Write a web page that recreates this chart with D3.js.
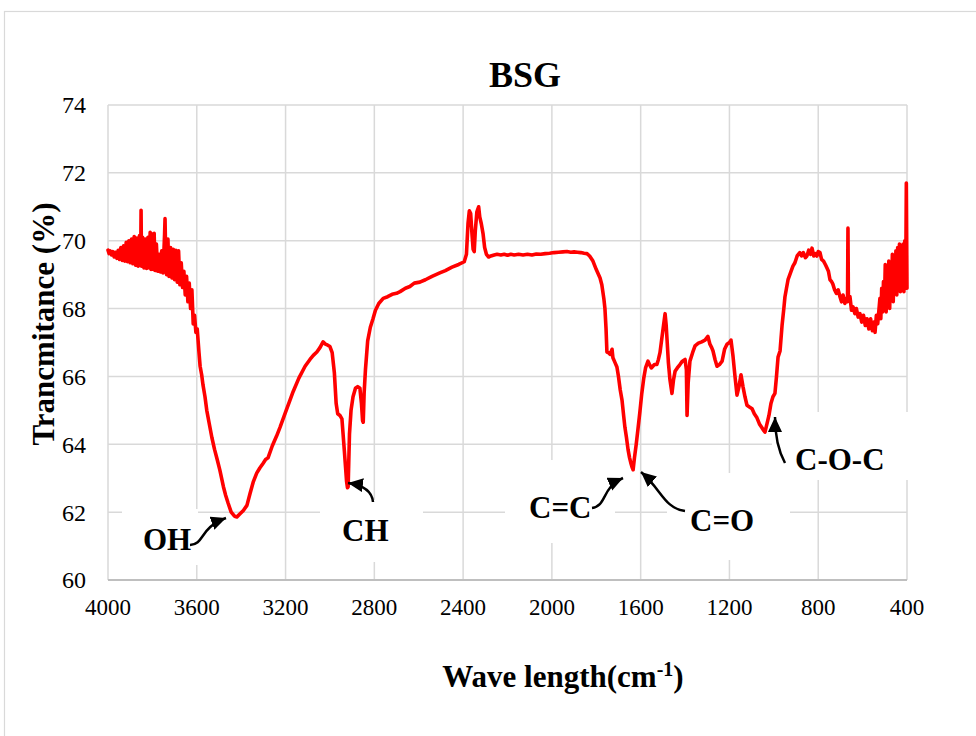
<!DOCTYPE html>
<html>
<head>
<meta charset="utf-8">
<script src="https://cdn.jsdelivr.net/npm/d3@7"></script>
<style>
  html, body { margin: 0; padding: 0; background: #fff; }
  svg { display: block; }
  text { font-family: "Liberation Serif", "Times New Roman", serif; fill: #000; }
</style>
</head>
<body>
<svg id="chart" width="976" height="736"></svg>
<script>
// ---------------- DATA ----------------
const chartTitle = "BSG";
const xTicks = [4000, 3600, 3200, 2800, 2400, 2000, 1600, 1200, 800, 400];
const yTicks = [60, 62, 64, 66, 68, 70, 72, 74];

const wavenumbers = [
  4000,3995,3990,3984,3978,3972,3966,3960,3954,3948,3942,3936,3930,3924,3918,3912,3906,3900,3894,3888,
  3882,3876,3870,3864,3858,3853,3851,3849,3844,3838,3832,3826,3820,3814,3810,3806,3800,3796,3792,3788,
  3782,3776,3770,3764,3758,3752,3745,3743,3740,3736,3730,3725,3718,3712,3706,3700,3694,3688,3682,3676,
  3670,3664,3658,3652,3646,3640,3634,3628,3622,3616,3610,3604,3598,3590,3585,3578,3572,3563,3555,3545,
  3532,3520,3508,3496,3480,3470,3459,3445,3430,3419,3405,3390,3374,3360,3345,3330,3316,3300,3290,3279,
  3260,3240,3225,3200,3180,3166,3140,3112,3090,3075,3059,3045,3031,3020,3010,3000,2990,2980,2972,2965,
  2955,2946,2935,2925,2921,2918,2912,2905,2896,2885,2875,2865,2858,2853,2850,2846,2840,2830,2818,2806,
  2795,2780,2760,2740,2720,2700,2684,2660,2640,2620,2595,2570,2540,2505,2480,2450,2420,2395,2385,2378,
  2372,2366,2360,2355,2350,2345,2338,2330,2325,2318,2310,2303,2295,2285,2275,2260,2247,2230,2215,2200,
  2185,2170,2150,2130,2110,2090,2070,2050,2030,2010,1990,1970,1950,1932,1915,1900,1885,1870,1855,1842,
  1830,1815,1800,1783,1775,1766,1761,1756,1752,1745,1738,1729,1725,1715,1707,1700,1692,1684,1676,1671,
  1664,1657,1650,1643,1639,1634,1628,1620,1613,1604,1595,1586,1578,1567,1560,1552,1545,1538,1527,1520,
  1513,1505,1497,1490,1485,1481,1475,1468,1459,1452,1445,1435,1423,1412,1400,1394,1391,1386,1378,1366,
  1355,1340,1325,1310,1297,1288,1280,1274,1265,1256,1245,1233,1222,1211,1200,1193,1184,1175,1166,1157,
  1148,1139,1130,1121,1110,1098,1088,1076,1065,1055,1045,1040,1031,1022,1013,1004,995,988,981,972,
  963,955,950,943,936,925,914,905,895,883,875,867,858,851,843,835,828,820,813,806,
  800,792,785,776,768,761,754,747,740,734,726,718,710,702,695,688,680,672,668,666,
  664,657,650,643,635,628,620,612,604,596,588,580,572,564,556,548,544,538,532,526,
  522,518,514,510,506,502,498,494,490,486,482,478,474,470,466,462,458,454,450,446,
  442,438,434,430,426,422,418,414,410,406,403,400
];
const transmittance = [
  69.72,69.62,69.70,69.58,69.68,69.52,69.66,69.48,69.72,69.45,69.80,69.42,69.85,69.40,69.95,69.38,70.00,69.35,70.05,69.32,
  70.12,69.28,70.08,69.25,70.15,69.30,70.90,69.25,70.10,69.20,70.05,69.18,70.10,69.20,70.25,69.15,70.20,69.15,70.22,69.12,
  69.90,69.10,69.60,69.08,69.70,69.05,70.20,70.65,69.50,69.00,70.05,68.95,69.80,68.90,69.75,68.85,69.72,68.78,69.70,68.70,
  69.35,68.62,69.10,68.40,68.95,68.20,68.75,68.00,68.55,67.55,67.80,67.30,67.40,66.70,66.30,66.05,65.75,65.40,65.00,64.65,
  64.20,63.85,63.55,63.24,62.75,62.50,62.27,62.00,61.88,61.86,61.95,62.05,62.20,62.55,62.90,63.15,63.30,63.45,63.55,63.60,
  63.95,64.25,64.50,64.95,65.30,65.55,65.95,66.30,66.50,66.62,66.72,66.85,67.02,66.95,66.92,66.88,66.70,66.10,65.20,64.90,
  64.85,64.75,63.80,62.90,62.72,62.75,64.30,65.00,65.40,65.65,65.70,65.65,65.20,64.70,64.65,65.50,66.20,67.05,67.45,67.70,
  67.95,68.15,68.30,68.35,68.42,68.45,68.50,68.60,68.65,68.75,68.78,68.85,68.95,69.05,69.12,69.22,69.30,69.38,69.60,70.50,
  70.88,70.80,70.20,69.75,69.68,70.30,70.85,71.00,70.70,70.50,70.20,69.80,69.60,69.52,69.55,69.58,69.60,69.58,69.60,69.57,
  69.60,69.58,69.60,69.58,69.60,69.58,69.61,69.60,69.62,69.63,69.65,69.66,69.67,69.68,69.66,69.67,69.66,69.65,69.63,69.62,
  69.55,69.40,69.15,68.90,68.70,68.30,68.00,67.40,66.72,66.70,66.65,66.80,66.55,66.40,66.28,66.00,65.60,65.30,64.80,64.50,
  64.20,63.85,63.60,63.42,63.33,63.25,63.60,64.00,64.40,64.92,65.50,65.95,66.25,66.45,66.35,66.25,66.30,66.35,66.35,66.50,
  66.70,67.10,67.50,67.85,67.50,67.07,66.40,65.90,65.50,65.90,66.15,66.25,66.35,66.45,66.50,66.20,64.85,65.80,66.45,66.70,
  66.90,66.98,67.02,67.07,67.18,66.95,66.85,66.75,66.50,66.30,66.35,66.45,66.80,66.95,67.00,67.07,66.60,66.00,65.45,65.70,
  66.05,65.70,65.40,65.15,65.10,65.05,64.90,64.78,64.60,64.50,64.40,64.36,64.60,64.85,65.20,65.40,65.50,66.00,66.57,66.75,
  67.50,68.00,68.34,68.60,68.85,69.05,69.25,69.35,69.55,69.65,69.55,69.65,69.50,69.55,69.72,69.60,69.78,69.55,69.62,69.55,
  69.68,69.65,69.45,69.40,69.30,69.20,69.10,68.85,68.80,68.72,68.55,68.45,68.55,68.35,68.20,68.40,68.15,68.30,68.20,70.37,
  68.25,68.35,67.95,68.05,67.85,68.00,67.75,67.85,67.60,67.80,67.50,67.70,67.40,67.70,67.35,67.60,67.30,67.80,67.55,68.00,
  68.30,67.70,68.60,67.90,68.80,68.00,69.30,67.90,68.90,68.10,69.40,68.00,69.20,68.30,69.60,68.20,69.50,68.50,69.70,68.40,
  69.80,68.60,69.90,68.50,69.60,68.70,69.90,68.50,70.00,68.60,71.70,68.60
];

const annotationLabels = ["OH", "CH", "C=C", "C=O", "C-O-C"];
const xAxisTitle = "Wave length(cm";
const xAxisTitleSup = "-1";
const yAxisTitle = "Trancmitance (%)";

// ---------------- LAYOUT ----------------
const svg = d3.select("#chart");
const plot = { left: 108, right: 907, top: 105, bottom: 580 };
const x = d3.scaleLinear().domain([4000, 400]).range([plot.left, plot.right]);
const y = d3.scaleLinear().domain([60, 74]).range([plot.bottom, plot.top]);

// outer chart border
svg.append("rect").attr("x", 4.5).attr("y", 11.5).attr("width", 990).attr("height", 760)
  .attr("fill", "none").attr("stroke", "#d9d9d9").attr("stroke-width", 1.2);

// gridlines
const grid = svg.append("g");
grid.selectAll("line.h").data(yTicks.filter(d => d !== 60)).join("line")
  .attr("x1", plot.left).attr("x2", plot.right)
  .attr("y1", d => y(d)).attr("y2", d => y(d))
  .attr("stroke", "#d9d9d9").attr("stroke-width", 1.5);
grid.selectAll("line.v").data(xTicks).join("line")
  .attr("x1", d => x(d)).attr("x2", d => x(d))
  .attr("y1", plot.top).attr("y2", plot.bottom)
  .attr("stroke", "#d9d9d9").attr("stroke-width", 1.5);

// bottom axis line
svg.append("line").attr("x1", plot.left).attr("x2", plot.right)
  .attr("y1", y(60)).attr("y2", y(60)).attr("stroke", "#bfbfbf").attr("stroke-width", 2);

// annotation text boxes (white) - cover gridlines like in original
const boxes = [
  { x0: 122, x1: 198, y0: 509, y1: 565 },
  { x0: 320, x1: 423, y0: 500, y1: 562 },
  { x0: 505, x1: 615, y0: 460, y1: 543 },
  { x0: 667, x1: 790, y0: 473, y1: 560 },
  { x0: 772, x1: 915, y0: 412, y1: 480 }
];
svg.append("g").selectAll("rect").data(boxes).join("rect")
  .attr("x", d => d.x0).attr("y", d => d.y0)
  .attr("width", d => d.x1 - d.x0).attr("height", d => d.y1 - d.y0)
  .attr("fill", "#fff");

// y tick labels
svg.append("g").selectAll("text").data(yTicks).join("text")
  .attr("x", 86).attr("y", d => y(d)).attr("dy", "0.35em")
  .attr("text-anchor", "end").attr("font-size", 24).text(d => d);

// x tick labels
svg.append("g").selectAll("text").data(xTicks).join("text")
  .attr("x", d => x(d)).attr("y", 615)
  .attr("text-anchor", "middle").attr("font-size", 23).text(d => d);

// spectrum line
const pts = wavenumbers.map((w, i) => [w, transmittance[i]]);
const line = d3.line().x(d => x(d[0])).y(d => y(d[1]));
svg.append("path").datum(pts).attr("d", line)
  .attr("fill", "none").attr("stroke", "#ff0000").attr("stroke-width", 3.6)
  .attr("stroke-linejoin", "round").attr("stroke-linecap", "round");

// title
svg.append("text").attr("x", 525).attr("y", 87).attr("text-anchor", "middle")
  .attr("font-size", 36).attr("font-weight", "bold").text(chartTitle);

// axis titles
const xt = svg.append("text").attr("x", 563).attr("y", 687).attr("text-anchor", "middle")
  .attr("font-size", 31).attr("font-weight", "bold");
xt.append("tspan").text(xAxisTitle);
xt.append("tspan").attr("font-size", 20).attr("dy", -11).text(xAxisTitleSup);
xt.append("tspan").attr("dy", 11).text(")");

svg.append("text").attr("transform", "translate(54,324) rotate(-90)")
  .attr("text-anchor", "middle").attr("font-size", 31).attr("font-weight", "bold")
  .text(yAxisTitle);

// annotations
const annPos = [
  { tx: 143, ty: 550, path: "M190,545 C205,544 199,528 226,518" },
  { tx: 342, ty: 541, path: "M373,502 C372,491 362,485 348,483" },
  { tx: 529, ty: 518, path: "M592,508 C607,506 601,488 623,478" },
  { tx: 690, ty: 531, path: "M685,511 C664,508 662,490 641,472" },
  { tx: 795, ty: 470, path: "M785,463 C778,450 775,435 775,417" }
];
const defs = svg.append("defs");
defs.append("marker").attr("id", "ah").attr("markerUnits", "userSpaceOnUse")
  .attr("markerWidth", 18).attr("markerHeight", 16).attr("refX", 15).attr("refY", 7)
  .attr("orient", "auto")
  .append("path").attr("d", "M0,0 L15,7 L0,14 Z").attr("fill", "#000");

const ann = svg.append("g");
annotationLabels.forEach((lab, i) => {
  const p = annPos[i];
  ann.append("text").attr("x", p.tx).attr("y", p.ty)
    .attr("font-size", 31).attr("font-weight", "bold").text(lab);
  ann.append("path").attr("d", p.path).attr("fill", "none")
    .attr("stroke", "#000").attr("stroke-width", 2.5).attr("marker-end", "url(#ah)");
});
</script>
</body>
</html>
